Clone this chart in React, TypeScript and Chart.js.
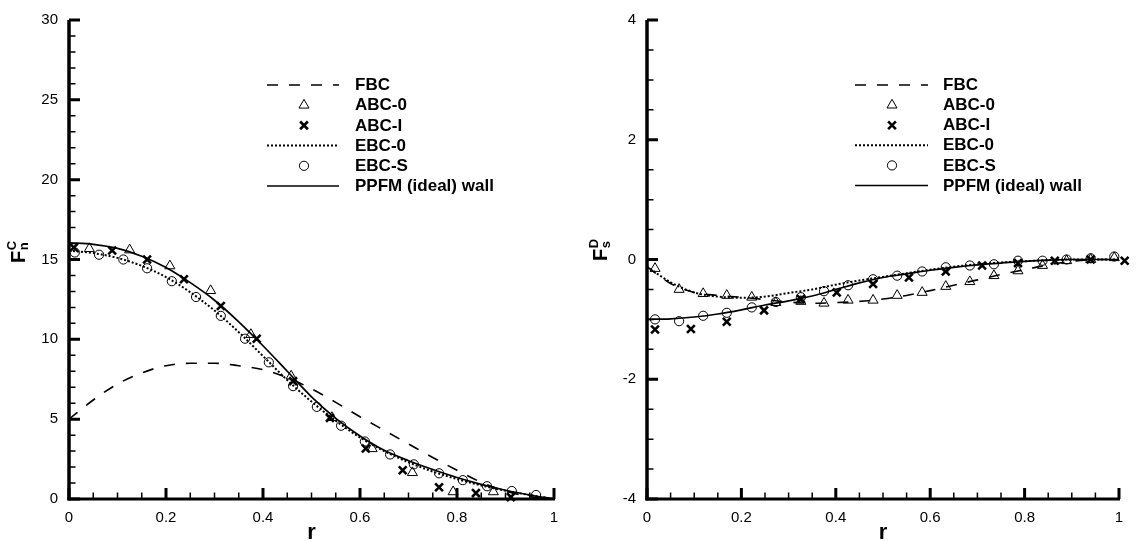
import React, { useEffect, useRef } from "react";
import { Chart, registerables } from "chart.js";

Chart.register(...registerables);

const FONT = "'Liberation Sans', Arial, Helvetica, sans-serif";

// ---------- shared ----------
const rCurve = [0, 0.05, 0.1, 0.15, 0.2, 0.25, 0.3, 0.35, 0.4, 0.45, 0.5, 0.55, 0.6, 0.65, 0.7, 0.75, 0.8, 0.85, 0.9, 0.95, 1];
const xTicks = [0, 0.2, 0.4, 0.6, 0.8, 1];
const xTickLabels = ["0", "0.2", "0.4", "0.6", "0.8", "1"];
const legendLabels = ["FBC", "ABC-0", "ABC-I", "EBC-0", "EBC-S", "PPFM (ideal) wall"];

// ---------- left panel: F_n^C ----------
const leftYTicks = [0, 5, 10, 15, 20, 25, 30];
const leftYTickLabels = ["0", "5", "10", "15", "20", "25", "30"];
const leftFBC = [5.0, 6.2, 7.2, 7.9, 8.35, 8.5, 8.5, 8.35, 8.1, 7.6, 6.9, 6.05, 5.15, 4.3, 3.45, 2.6, 1.8, 1.05, 0.5, 0.15, 0];
const leftEBC0 = [15.55, 15.4, 15.1, 14.6, 13.9, 12.95, 11.8, 10.45, 8.95, 7.45, 6.1, 4.9, 3.85, 3.0, 2.3, 1.72, 1.25, 0.85, 0.52, 0.25, 0];
const leftPPFM = [16.05, 15.95, 15.7, 15.2, 14.5, 13.55, 12.45, 11.1, 9.6, 8.0, 6.4, 5.05, 3.95, 3.05, 2.4, 1.85, 1.35, 0.92, 0.55, 0.25, 0];
const leftABC0R = [0.042, 0.125, 0.208, 0.292, 0.375, 0.458, 0.542, 0.625, 0.708, 0.792, 0.875];
const leftABC0 = [15.68, 15.6, 14.6, 13.05, 10.3, 7.7, 5.1, 3.15, 1.65, 0.45, 0.45];
const leftABCIR = [0.01, 0.089, 0.161, 0.237, 0.313, 0.387, 0.462, 0.538, 0.612, 0.688, 0.763, 0.839, 0.911];
const leftABCI = [15.75, 15.56, 15.0, 13.76, 12.09, 10.04, 7.38, 5.08, 3.16, 1.8, 0.74, 0.37, 0.12];
const leftEBCSR = [0.012, 0.062, 0.112, 0.161, 0.212, 0.262, 0.313, 0.363, 0.412, 0.462, 0.511, 0.561, 0.61, 0.662, 0.711, 0.763, 0.812, 0.862, 0.913, 0.963];
const leftEBCS = [15.44, 15.3, 15.0, 14.45, 13.64, 12.65, 11.47, 10.04, 8.56, 7.07, 5.77, 4.59, 3.6, 2.79, 2.17, 1.61, 1.18, 0.8, 0.5, 0.25];

// ---------- right panel: F_s^D ----------
const rightYTicks = [-4, -2, 0, 2, 4];
const rightYTickLabels = ["-4", "-2", "0", "2", "4"];
const rightFBC = [-0.12, -0.4, -0.55, -0.6, -0.63, -0.67, -0.71, -0.73, -0.72, -0.7, -0.66, -0.6, -0.52, -0.43, -0.34, -0.25, -0.17, -0.09, -0.03, 0.0, 0.0];
const rightEBC0 = [-0.12, -0.38, -0.55, -0.62, -0.64, -0.62, -0.56, -0.5, -0.42, -0.35, -0.29, -0.23, -0.17, -0.12, -0.08, -0.05, -0.03, -0.01, 0.0, 0.0, 0.0];
const rightPPFM = [-1.0, -0.99, -0.96, -0.91, -0.84, -0.76, -0.69, -0.61, -0.5, -0.39, -0.3, -0.24, -0.18, -0.13, -0.09, -0.06, -0.03, -0.01, 0.0, 0.0, 0.0];
const rightABC0R = [0.017, 0.068, 0.119, 0.169, 0.222, 0.273, 0.326, 0.375, 0.426, 0.479, 0.53, 0.583, 0.633, 0.684, 0.735, 0.786, 0.838, 0.889, 0.94, 0.99];
const rightABC0 = [-0.15, -0.5, -0.57, -0.6, -0.63, -0.72, -0.7, -0.73, -0.68, -0.68, -0.6, -0.55, -0.45, -0.37, -0.27, -0.19, -0.1, -0.02, 0.0, 0.03];
const rightABCIR = [0.017, 0.093, 0.169, 0.248, 0.326, 0.402, 0.479, 0.555, 0.633, 0.71, 0.786, 0.864, 0.94, 1.012];
const rightABCI = [-1.17, -1.16, -1.04, -0.85, -0.66, -0.55, -0.41, -0.3, -0.2, -0.1, -0.06, -0.02, 0.0, -0.02];
const rightEBCSR = [0.017, 0.068, 0.119, 0.169, 0.222, 0.273, 0.326, 0.375, 0.426, 0.479, 0.53, 0.583, 0.633, 0.684, 0.735, 0.786, 0.838, 0.889, 0.94, 0.99];
const rightEBCS = [-1.0, -1.03, -0.94, -0.89, -0.8, -0.71, -0.63, -0.53, -0.43, -0.33, -0.27, -0.2, -0.13, -0.1, -0.08, -0.02, -0.02, 0.0, 0.02, 0.05];

// ---------- helpers ----------
const pts = (xs: number[], ys: number[]) => xs.map((x, i) => ({ x, y: ys[i] }));

const lineDs = (label: string, xs: number[], ys: number[], dash: number[], width: number) => ({
  label,
  data: pts(xs, ys),
  showLine: true,
  borderColor: "#000",
  backgroundColor: "#000",
  borderWidth: width,
  borderDash: dash,
  pointRadius: 0,
  pointHoverRadius: 0,
  cubicInterpolationMode: "monotone",
  fill: false,
});

const markDs = (label: string, xs: number[], ys: number[], style: string, radius: number, width: number) => ({
  label,
  data: pts(xs, ys),
  showLine: false,
  pointStyle: style,
  pointRadius: radius,
  pointHoverRadius: radius,
  pointBorderWidth: width,
  pointBorderColor: "#000",
  pointBackgroundColor: "rgba(0,0,0,0)",
  borderColor: "#000",
  backgroundColor: "rgba(0,0,0,0)",
  clip: false,
});

function drawMarker(ctx: CanvasRenderingContext2D, style: string, x: number, y: number, r: number) {
  ctx.beginPath();
  if (style === "triangle") {
    let rad = 0;
    ctx.moveTo(x + Math.sin(rad) * r, y - Math.cos(rad) * r);
    rad += (2 * Math.PI) / 3;
    ctx.lineTo(x + Math.sin(rad) * r, y - Math.cos(rad) * r);
    rad += (2 * Math.PI) / 3;
    ctx.lineTo(x + Math.sin(rad) * r, y - Math.cos(rad) * r);
    ctx.closePath();
  } else if (style === "crossRot") {
    const o = Math.cos(Math.PI / 4) * r;
    ctx.moveTo(x - o, y - o);
    ctx.lineTo(x + o, y + o);
    ctx.moveTo(x + o, y - o);
    ctx.lineTo(x - o, y + o);
  } else {
    ctx.arc(x, y, r, 0, Math.PI * 2);
  }
  ctx.stroke();
}

const tecPlugin = {
  id: "tec",
  afterDraw(chart: any, _args: any, opts: any) {
    const { ctx, chartArea: ca, scales } = chart;
    const xs = scales.x;
    const ys = scales.y;
    ctx.save();
    ctx.strokeStyle = "#000";
    ctx.fillStyle = "#000";
    ctx.lineCap = "butt";
    ctx.setLineDash([]);
    // minor ticks
    ctx.lineWidth = 1.5;
    ctx.beginPath();
    for (let v = xs.min; v <= xs.max + 1e-9; v += opts.xMinor) {
      const p = xs.getPixelForValue(v);
      ctx.moveTo(p, ca.bottom);
      ctx.lineTo(p, ca.bottom - 6.5);
    }
    for (let v = ys.min; v <= ys.max + 1e-9; v += opts.yMinor) {
      const p = ys.getPixelForValue(v);
      ctx.moveTo(ca.left, p);
      ctx.lineTo(ca.left + 6.5, p);
    }
    ctx.stroke();
    // major ticks
    ctx.lineWidth = 3;
    ctx.beginPath();
    xs.ticks.forEach((t: any) => {
      const p = xs.getPixelForValue(t.value);
      ctx.moveTo(p, ca.bottom);
      ctx.lineTo(p, ca.bottom - 11);
    });
    ys.ticks.forEach((t: any) => {
      const p = ys.getPixelForValue(t.value);
      ctx.moveTo(ca.left, p);
      ctx.lineTo(ca.left + 11, p);
    });
    ctx.stroke();
    // axis lines
    ctx.lineWidth = 3.5;
    ctx.beginPath();
    ctx.moveTo(ca.left, ca.top);
    ctx.lineTo(ca.left, ca.bottom + 1.5);
    ctx.stroke();
    ctx.lineWidth = 3;
    ctx.beginPath();
    ctx.moveTo(ca.left - 1.5, ca.bottom);
    ctx.lineTo(ca.right + 1, ca.bottom);
    ctx.stroke();

    // rotated y title with sub/superscript
    const t = opts.title;
    ctx.save();
    ctx.translate(t.x, t.y);
    ctx.rotate(-Math.PI / 2);
    ctx.textAlign = "left";
    ctx.textBaseline = "alphabetic";
    ctx.font = `bold ${t.size}px ${FONT}`;
    ctx.fillText(t.main, 0, 0);
    const w = ctx.measureText(t.main).width;
    ctx.font = `bold ${t.small}px ${FONT}`;
    ctx.fillText(t.sub, w + 0.5, t.subDy);
    ctx.fillText(t.sup, w + 0.5, t.supDy);
    ctx.restore();

    // legend
    const lg = opts.legend;
    ctx.font = `bold ${lg.size}px ${FONT}`;
    ctx.textAlign = "left";
    ctx.textBaseline = "middle";
    chart.data.datasets.forEach((ds: any, i: number) => {
      const y = lg.y0 + i * lg.dy;
      ctx.save();
      ctx.strokeStyle = "#000";
      if (ds.showLine) {
        ctx.lineWidth = ds.borderWidth;
        ctx.setLineDash(ds.borderDash || []);
        ctx.beginPath();
        ctx.moveTo(lg.x1, y);
        ctx.lineTo(lg.x2, y);
        ctx.stroke();
      } else {
        ctx.lineWidth = ds.pointBorderWidth;
        drawMarker(ctx, ds.pointStyle, lg.xm, y, ds.pointRadius);
      }
      ctx.restore();
      ctx.fillText(ds.label, lg.tx, y + 0.5);
    });
    ctx.restore();
  },
};

type PanelCfg = {
  width: number;
  rightPad: number;
  yMin: number;
  yMax: number;
  yTicks: number[];
  yTickLabels: string[];
  yMinor: number;
  datasets: any[];
  title: any;
  legend: any;
};

function buildConfig(p: PanelCfg): any {
  return {
    type: "scatter",
    data: { datasets: p.datasets },
    plugins: [tecPlugin],
    options: {
      responsive: false,
      animation: false,
      events: [],
      layout: { padding: { top: 15, right: p.rightPad, left: 0, bottom: 0 } },
      plugins: {
        legend: { display: false },
        tooltip: { enabled: false },
        tec: { xMinor: 0.05, yMinor: p.yMinor, title: p.title, legend: p.legend },
      },
      scales: {
        x: {
          type: "linear",
          min: 0,
          max: 1,
          afterBuildTicks: (s: any) => {
            s.ticks = xTicks.map((v) => ({ value: v }));
          },
          afterFit: (s: any) => {
            s.height = 43;
          },
          grid: { display: false, drawTicks: false },
          border: { display: false },
          ticks: {
            color: "#000",
            font: { family: FONT, size: 15 },
            padding: 10,
            maxRotation: 0,
            autoSkip: false,
            callback: (_v: any, i: number) => xTickLabels[i],
          },
          title: {
            display: true,
            text: "r",
            color: "#000",
            font: { family: FONT, size: 22, weight: "bold", lineHeight: 0.8 },
            padding: 0,
          },
        },
        y: {
          type: "linear",
          min: p.yMin,
          max: p.yMax,
          afterBuildTicks: (s: any) => {
            s.ticks = p.yTicks.map((v) => ({ value: v }));
          },
          afterFit: (s: any) => {
            s.width = 69;
          },
          grid: { display: false, drawTicks: false },
          border: { display: false },
          ticks: {
            color: "#000",
            font: { family: FONT, size: 15 },
            padding: 11,
            autoSkip: false,
            callback: (_v: any, i: number) => p.yTickLabels[i],
          },
        },
      },
    },
  };
}

function makeSets(fbc: number[], a0x: number[], a0: number[], aix: number[], ai: number[], e0: number[], esx: number[], es: number[], pp: number[]) {
  return [
    lineDs(legendLabels[0], rCurve, fbc, [11, 11], 1.6),
    markDs(legendLabels[1], a0x, a0, "triangle", 5.8, 1),
    markDs(legendLabels[2], aix, ai, "crossRot", 5.5, 2.6),
    lineDs(legendLabels[3], rCurve, e0, [2, 2], 2),
    markDs(legendLabels[4], esx, es, "circle", 4.6, 1),
    lineDs(legendLabels[5], rCurve, pp, [], 1.7),
  ];
}

function Panel({ cfg, left }: { cfg: PanelCfg; left: number }) {
  const ref = useRef<HTMLCanvasElement | null>(null);
  useEffect(() => {
    if (!ref.current) return;
    const chart = new Chart(ref.current, buildConfig(cfg));
    return () => chart.destroy();
  }, []);
  return (
    <canvas
      ref={ref}
      width={cfg.width}
      height={542}
      style={{ position: "absolute", left, top: 0, width: cfg.width, height: 542 }}
    />
  );
}

const leftCfg: PanelCfg = {
  width: 578,
  rightPad: 24,
  yMin: 0,
  yMax: 30,
  yTicks: leftYTicks,
  yTickLabels: leftYTickLabels,
  yMinor: 1,
  datasets: makeSets(leftFBC, leftABC0R, leftABC0, leftABCIR, leftABCI, leftEBC0, leftEBCSR, leftEBCS, leftPPFM),
  title: { main: "F", sub: "n", sup: "C", x: 25, y: 263, size: 20, small: 13, subDy: 3, supDy: -9 },
  legend: { x1: 267, x2: 339, xm: 304, tx: 355, y0: 85, dy: 20.2, size: 17 },
};

const rightCfg: PanelCfg = {
  width: 559,
  rightPad: 18,
  yMin: -4,
  yMax: 4,
  yTicks: rightYTicks,
  yTickLabels: rightYTickLabels,
  yMinor: 0.5,
  datasets: makeSets(rightFBC, rightABC0R, rightABC0, rightABCIR, rightABCI, rightEBC0, rightEBCSR, rightEBCS, rightPPFM),
  title: { main: "F", sub: "s", sup: "D", x: 29, y: 261, size: 20, small: 13, subDy: 3, supDy: -9 },
  legend: { x1: 277, x2: 350, xm: 314, tx: 365, y0: 85, dy: 20.1, size: 17 },
};

export default function App() {
  return (
    <div style={{ position: "fixed", left: 0, top: 0, width: 1137, height: 542, background: "#fff", overflow: "hidden" }}>
      <Panel cfg={leftCfg} left={0} />
      <Panel cfg={rightCfg} left={578} />
    </div>
  );
}
